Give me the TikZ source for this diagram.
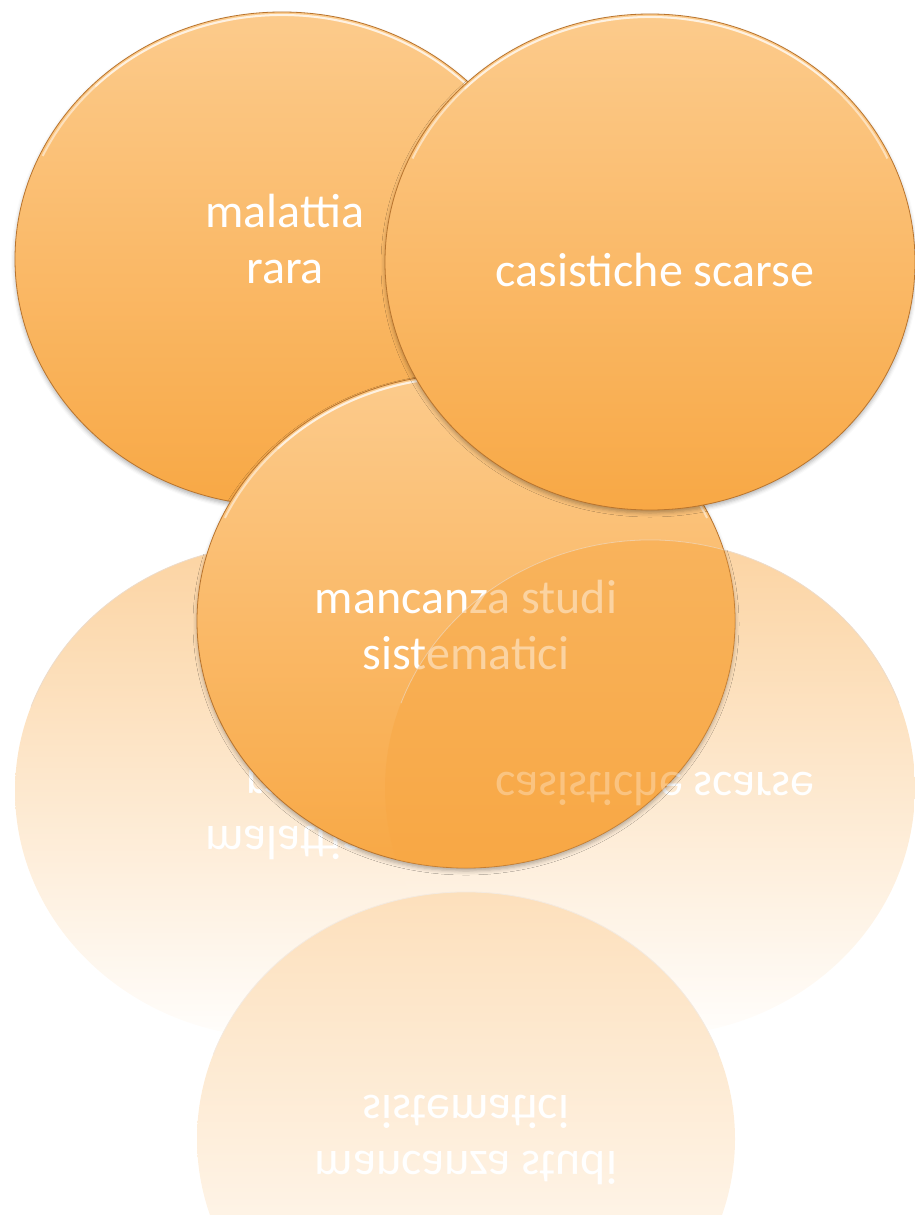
\documentclass[tikz,border=0pt]{standalone}
\usepackage{fontspec}
\setmainfont{Carlito}
\usetikzlibrary{shapes.geometric,shadows.blur}

\definecolor{bubtop}{HTML}{FCCB8C}
\definecolor{bubbot}{HTML}{F8A845}
\definecolor{bubline}{HTML}{B8742E}

\tikzset{
  bubble/.style={ellipse, draw=bubline, line width=0.8pt, top color=bubtop, bottom color=bubbot, inner sep=0pt},
  mirror/.style={ellipse, top color=bubbot!50!white, bottom color=bubtop!3!white, inner sep=0pt},
  shadowed/.style={blur shadow={shadow xshift=0pt, shadow yshift=-3pt, shadow blur radius=4pt, shadow opacity=30}},
  rim/.style={draw=white, line width=2pt, opacity=0.5},
  reflrim/.style={draw=bubline!25!white, line width=0.8pt},
  word/.style={text=white, align=center, inner sep=0pt, font=\fontsize{48}{56}\selectfont},
}

\begin{document}
\begin{tikzpicture}[x=1pt,y=-1pt]
\useasboundingbox (0,0) rectangle (915,1215);

% Left circle
\node[bubble, shadowed, minimum width=534pt, minimum height=494pt] (rara) at (282,259) {};
\draw[rim] ([shift={(205:264 and 244)}]rara.center) arc[start angle=205, end angle=335, x radius=264, y radius=244];
\draw[rim] ([shift={(225:264 and 244)}]rara.center) arc[start angle=225, end angle=315, x radius=264, y radius=244];
\node[word] (raraTxt) at (285,239) {malattia\\rara};

% Reflections (drawn below the bottom circle)
\node[mirror, minimum width=534pt, minimum height=494pt] (raraR) at (282,791) {};
\draw[reflrim] ([shift={(200:267 and 247)}]raraR.center) arc[start angle=200, end angle=340, x radius=267, y radius=247];
\node[word, yscale=-1] (raraRTxt) at (285,815) {malattia\\rara};

\node[mirror, minimum width=530pt, minimum height=496pt] (casiR) at (650,788) {};
\draw[reflrim] ([shift={(200:265 and 248)}]casiR.center) arc[start angle=200, end angle=340, x radius=265, y radius=248];
\node[word, yscale=-1] (casiRTxt) at (655,789) {casistiche scarse};

\node[mirror, top color=bubbot!36!white, minimum width=538pt, minimum height=494pt] (studiR) at (466,1139) {};
\draw[reflrim, draw=bubline!15!white] ([shift={(200:269 and 247)}]studiR.center) arc[start angle=200, end angle=340, x radius=269, y radius=247];
\node[word, yscale=-1] (studiRTxt) at (466,1140) {mancanza studi\\sistematici};

% Bottom circle
\node[bubble, shadowed, minimum width=538pt, minimum height=494pt] (studi) at (466,621) {};
\draw[rim] ([shift={(205:266 and 244)}]studi.center) arc[start angle=205, end angle=335, x radius=266, y radius=244];
\draw[rim] ([shift={(225:266 and 244)}]studi.center) arc[start angle=225, end angle=315, x radius=266, y radius=244];
\node[word] (studiTxt) at (466,625) {mancanza studi\\sistematici};

% Right circle
\node[bubble, shadowed, minimum width=530pt, minimum height=496pt] (casi) at (650,262) {};
\draw[rim] ([shift={(205:262 and 245)}]casi.center) arc[start angle=205, end angle=335, x radius=262, y radius=245];
\draw[rim] ([shift={(225:262 and 245)}]casi.center) arc[start angle=225, end angle=315, x radius=262, y radius=245];
\node[word] (casiTxt) at (655,270) {casistiche scarse};

% Right reflection seen over the bottom circle
\begin{scope}
\clip (studi.center) ellipse [x radius=269, y radius=247];
\fill[bubbot, opacity=0.5] (casiR.center) ellipse [x radius=265, y radius=248];
\draw[reflrim, opacity=0.6] ([shift={(200:265 and 248)}]casiR.center) arc[start angle=200, end angle=340, x radius=265, y radius=248];
\node[word, yscale=-1, opacity=0.3] (casiRTxtB) at (655,789) {casistiche scarse};
\end{scope}

\end{tikzpicture}
\end{document}
